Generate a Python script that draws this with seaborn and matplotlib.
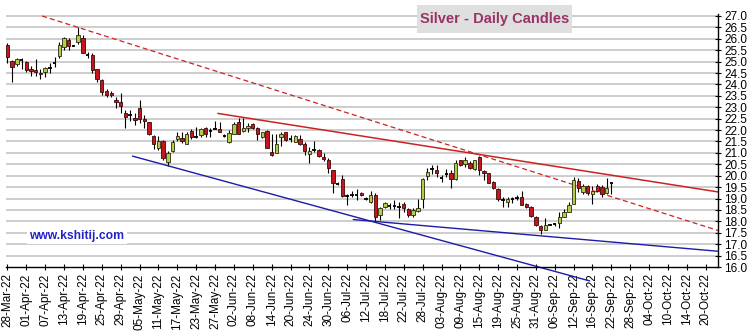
import matplotlib
matplotlib.use('Agg')
import matplotlib.pyplot as plt
import seaborn as sns
import pandas as pd
import numpy as np
from matplotlib.patches import Rectangle

# ---- data (trading-day index 0 = 28-Mar-22) ----
opens = [25.74, 25.01, 24.91, 25.08, 24.98, 24.69, 24.64, 24.51, 24.54, 24.78,
         24.90, 25.24, 25.62, 25.93, 25.73, 25.87, 26.02, 25.33, 25.29, 24.69,
         24.18, 23.71, 23.62, 23.34, 23.23, 22.73, 22.69, 22.55, 22.98, 22.49,
         22.36, 21.73, 21.20, 21.52, 20.61, 21.08, 21.63, 21.66, 21.41, 21.96,
         21.75, 21.78, 22.07, 22.00, 22.08, 22.04, 21.78, 21.49, 21.85, 22.34,
         21.96, 22.07, 22.25, 22.07, 21.71, 21.96, 21.02, 21.00, 21.68, 21.90,
         21.60, 21.49, 21.63, 21.39, 20.93, 21.16, 21.12, 20.80, 20.68, 20.25,
         19.68, 19.84, 19.13, 19.16, 19.16, 19.25, 19.01, 18.86, 19.15, 18.27,
         18.64, 18.68, 18.68, 18.65, 18.75, 18.52, 18.27, 18.46, 19.00, 19.98,
         20.33, 20.27, 19.94, 20.08, 20.13, 19.84, 20.68, 20.51, 20.57, 20.28,
         20.80, 20.20, 20.10, 19.73, 19.40, 18.94, 18.86, 18.97, 19.04, 19.08,
         18.75, 18.61, 18.20, 17.79, 17.64, 17.86, 17.89, 17.91, 18.20, 18.42,
         18.78, 19.76, 19.30, 19.54, 19.22, 19.54, 19.51, 19.25, 19.66]
highs = [25.80, 25.07, 25.18, 25.17, 25.04, 24.80, 25.10, 24.66, 24.77, 24.96,
         25.21, 25.86, 26.09, 26.02, 25.74, 26.50, 26.18, 25.42, 25.39, 24.69,
         24.22, 23.82, 23.71, 23.46, 23.63, 22.87, 22.87, 22.73, 23.31, 22.68,
         22.36, 21.78, 21.75, 21.55, 21.08, 21.56, 21.90, 21.93, 21.93, 22.04,
         22.15, 22.10, 22.15, 22.10, 22.39, 22.34, 21.85, 22.00, 22.37, 22.54,
         22.54, 22.29, 22.29, 22.15, 21.93, 22.00, 21.81, 21.85, 21.93, 21.93,
         21.78, 21.78, 21.78, 21.49, 21.27, 21.53, 21.15, 20.98, 20.76, 20.25,
         19.72, 20.03, 19.22, 19.34, 19.40, 19.28, 19.07, 19.34, 19.25, 18.64,
         18.86, 18.79, 18.93, 18.86, 18.86, 18.57, 18.57, 19.00, 19.88, 20.32,
         20.47, 20.47, 20.03, 20.28, 20.25, 20.68, 20.71, 20.80, 20.66, 20.71,
         20.86, 20.25, 20.13, 19.76, 19.44, 19.05, 19.05, 19.08, 19.15, 19.33,
         18.81, 18.67, 18.23, 17.83, 18.13, 17.88, 17.93, 18.42, 18.56, 18.86,
         19.95, 19.92, 19.63, 19.59, 19.54, 19.63, 19.59, 19.92, 19.69]
lows = [24.95, 24.12, 24.83, 24.67, 24.53, 24.38, 24.37, 24.22, 24.34, 24.51,
        24.77, 25.17, 25.51, 25.51, 25.67, 25.77, 25.39, 25.14, 24.48, 24.12,
        23.53, 23.43, 23.43, 22.95, 22.73, 22.11, 22.41, 22.22, 22.29, 22.11,
        21.78, 21.15, 21.12, 20.70, 20.44, 21.05, 21.52, 21.42, 21.37, 21.63,
        21.66, 21.71, 21.71, 21.71, 22.03, 21.90, 21.69, 21.42, 21.81, 21.81,
        21.93, 21.93, 22.04, 21.56, 21.66, 21.20, 20.87, 20.98, 21.30, 21.52,
        21.49, 21.46, 21.34, 20.90, 20.54, 21.05, 20.83, 20.66, 20.13, 19.25,
        19.60, 19.08, 18.71, 19.05, 18.93, 19.10, 18.94, 18.81, 17.98, 18.08,
        18.57, 18.55, 18.54, 18.13, 18.42, 18.20, 18.20, 18.42, 18.57, 19.81,
        20.07, 19.95, 19.73, 19.93, 19.44, 19.81, 20.42, 20.39, 20.28, 20.25,
        20.03, 19.81, 19.66, 19.40, 18.90, 18.61, 18.64, 18.81, 18.93, 18.71,
        18.57, 18.20, 17.79, 17.44, 17.61, 17.82, 17.79, 17.69, 18.17, 18.39,
        18.75, 19.30, 19.20, 19.15, 18.75, 19.29, 19.05, 19.22, 19.22]
closes = [25.21, 24.75, 25.10, 25.05, 24.63, 24.60, 24.53, 24.45, 24.70, 24.74,
          24.94, 25.71, 26.02, 25.70, 25.69, 26.16, 25.39, 25.30, 24.63, 24.26,
          23.68, 23.55, 23.52, 23.21, 23.06, 22.58, 22.66, 22.44, 22.47, 22.38,
          21.82, 21.41, 21.53, 20.76, 20.98, 21.49, 21.74, 21.52, 21.85, 21.68,
          21.71, 22.03, 21.85, 21.98, 22.06, 21.93, 21.74, 21.88, 22.25, 21.85,
          22.07, 22.19, 22.10, 21.81, 21.90, 21.23, 20.90, 21.37, 21.85, 21.56,
          21.59, 21.74, 21.41, 21.08, 21.08, 21.14, 20.87, 20.74, 20.36, 19.66,
          19.65, 19.11, 19.11, 19.14, 19.14, 19.14, 18.99, 19.15, 18.20, 18.57,
          18.81, 18.66, 18.66, 18.63, 18.59, 18.30, 18.49, 18.59, 19.84, 20.17,
          20.31, 20.13, 19.92, 20.06, 19.84, 20.57, 20.47, 20.71, 20.36, 20.68,
          20.25, 20.10, 19.69, 19.44, 19.00, 18.92, 18.96, 18.96, 19.02, 18.71,
          18.61, 18.23, 17.86, 17.64, 17.83, 17.85, 17.88, 18.20, 18.42, 18.71,
          19.81, 19.44, 19.54, 19.25, 19.33, 19.34, 19.19, 19.44, 19.66]

tick_labels = ['28-Mar-22', '01-Apr-22', '07-Apr-22', '13-Apr-22', '19-Apr-22',
               '25-Apr-22', '29-Apr-22', '05-May-22', '11-May-22', '17-May-22',
               '23-May-22', '27-May-22', '02-Jun-22', '08-Jun-22', '14-Jun-22',
               '20-Jun-22', '24-Jun-22', '30-Jun-22', '06-Jul-22', '12-Jul-22',
               '18-Jul-22', '22-Jul-22', '28-Jul-22', '03-Aug-22', '09-Aug-22',
               '15-Aug-22', '19-Aug-22', '25-Aug-22', '31-Aug-22', '06-Sep-22',
               '12-Sep-22', '16-Sep-22', '22-Sep-22', '28-Sep-22', '04-Oct-22',
               '10-Oct-22', '14-Oct-22', '20-Oct-22']
tick_step = 4

# trend lines: x (trading-day index) and y (price) end points
red_dashed = ([7.35, 150.6], [27.0, 17.6])
red_solid = ([44.6, 150.6], [22.73, 19.29])
blue_steep = ([26.5, 123.4], [20.86, 15.39])
blue_flat = ([73.3, 150.6], [18.08, 16.69])

title = 'Silver - Daily Candles'
watermark = 'www.kshitij.com'

# ---- style ----
sns.set_theme(style='white')
plt.rcParams['font.family'] = ['Liberation Sans', 'DejaVu Sans']

W, H = 753, 334
fig = plt.figure(figsize=(W / 100, H / 100), dpi=100)
fig.patch.set_facecolor('white')
ax = fig.add_axes([6 / W, 67 / H, 712 / W, (267 - 13.7) / H])
ax.set_facecolor('white')

df = pd.DataFrame({'o': opens, 'h': highs, 'l': lows, 'c': closes})
df['x'] = np.arange(len(df))

ax.set_xlim(-0.3, 150.6)
ax.set_ylim(16, 27.1)

# grid
yt = np.arange(16.0, 27.01, 0.5)
ax.set_yticks(yt)
ax.set_yticklabels([f'{v:.1f}' for v in yt])
for v in yt[1:]:
    ax.axhline(v, color='#c0c0c0', lw=1.1, zorder=0)

# wicks
ax.vlines(df['x'], df['l'], df['h'], color='black', lw=0.8, zorder=2)

# bodies
diff = df['c'] - df['o']
big = diff.abs() >= 0.06
up = big & (diff > 0)
dn = big & (diff < 0)
bw = 0.72
ax.bar(df.loc[up, 'x'], diff[up], bottom=df.loc[up, 'o'], width=bw,
       color='#b2cc4a', edgecolor='#2a2a10', lw=0.6, zorder=3)
ax.bar(df.loc[dn, 'x'], -diff[dn], bottom=df.loc[dn, 'c'], width=bw,
       color='#c4161c', edgecolor='#3a0a0a', lw=0.6, zorder=3)
small = ~big
ax.hlines(df.loc[small, 'c'], df.loc[small, 'x'] - bw / 2, df.loc[small, 'x'] + bw / 2,
          color='black', lw=1.3, zorder=3)

# trend lines
sns.lineplot(x=red_dashed[0], y=red_dashed[1], ax=ax, color='#cc2222', lw=0.9, sort=False)
ax.lines[-1].set_dashes([4, 2.5])
sns.lineplot(x=red_solid[0], y=red_solid[1], ax=ax, color='#cc2222', lw=1.1, sort=False)
sns.lineplot(x=blue_steep[0], y=blue_steep[1], ax=ax, color='#1c1ca8', lw=1.0, sort=False)
ax.lines[-1].set_clip_on(False)
sns.lineplot(x=blue_flat[0], y=blue_flat[1], ax=ax, color='#1c1ca8', lw=1.0, sort=False)

# axes styling
for s in ['left', 'top']:
    ax.spines[s].set_visible(False)
for s in ['right', 'bottom']:
    ax.spines[s].set_visible(True)
    ax.spines[s].set_color('black')
    ax.spines[s].set_linewidth(1.0)
ax.yaxis.tick_right()
ax.tick_params(axis='y', which='major', direction='inout', length=5, width=0.8,
               pad=2, labelsize=8.5, colors='black', right=True, left=False)
xt = np.arange(0, len(tick_labels) * tick_step, tick_step)
ax.set_xticks(xt)
ax.set_xticklabels(tick_labels, rotation=90)
ax.tick_params(axis='x', which='major', direction='inout', length=5, width=0.8,
               pad=2, labelsize=8.5, colors='black', bottom=True)
ax.set_xlabel('')
ax.set_ylabel('')

# title box
fig.add_artist(Rectangle((417 / W, 1 - 33 / H), 155 / W, 28 / H, transform=fig.transFigure,
                         facecolor='#e0dfe0', edgecolor='none', zorder=5))
fig.text(494.5 / W, 1 - 19 / H, title, ha='center', va='center', fontsize=10.5,
         fontweight='bold', color='#993366', zorder=6)

# watermark (placed in axes coordinates)
ax.text((77 - 6) / 712, (267 - 236) / (267 - 13.7), watermark, transform=ax.transAxes,
        ha='center', va='center', fontsize=8.7, fontweight='bold', color='#2323c8',
        zorder=6, bbox=dict(facecolor='white', edgecolor='none', pad=1.5))

fig.savefig('out.png', dpi=100, facecolor='white')
